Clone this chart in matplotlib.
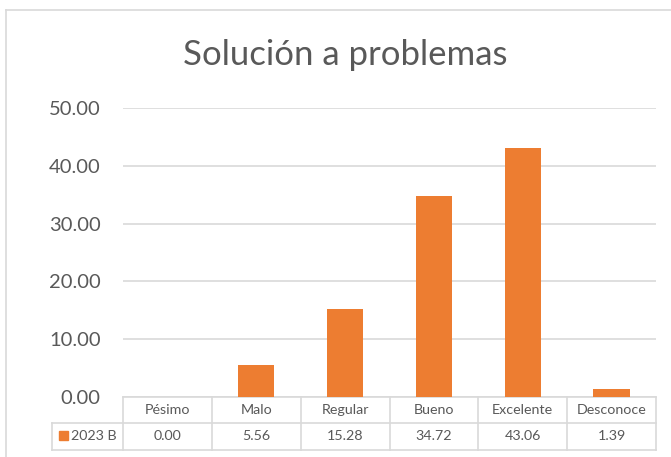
import matplotlib.pyplot as plt
from matplotlib.patches import Rectangle
from matplotlib.lines import Line2D

categories = ['Pésimo', 'Malo', 'Regular', 'Bueno', 'Excelente', 'Desconoce']
values = [0.00, 5.56, 15.28, 34.72, 43.06, 1.39]
series_name = '2023 B'
y_ticks = [0, 10, 20, 30, 40, 50]

bar_color = '#ED7D31'
text_color = '#595959'
line_color = '#D9D9D9'

plt.rcParams['font.family'] = ['Lato', 'DejaVu Sans']

fig = plt.figure(figsize=(6.71, 4.57), dpi=100)

# chart border (only top and left visible in the reference crop)
fig.add_artist(Line2D([6 / 671, 6 / 671], [0, 1 - 10 / 457], transform=fig.transFigure,
                      color=line_color, lw=1.2))
fig.add_artist(Line2D([6 / 671, 1], [1 - 10 / 457, 1 - 10 / 457], transform=fig.transFigure,
                      color=line_color, lw=1.2))

ax = fig.add_axes([123 / 671, 1 - 397 / 457, 533 / 671, 289 / 457])
x = list(range(len(categories)))
ax.bar(x, values, width=0.41, color=bar_color, zorder=3)
ax.set_xlim(-0.5, len(categories) - 0.5)
ax.set_ylim(0, 50)
ax.set_yticks(y_ticks)
ax.set_yticklabels([f'{v:.2f}' for v in y_ticks], fontsize=14.5, color=text_color)
ax.tick_params(axis='y', length=0, pad=16)
ax.set_xticks([])
ax.grid(axis='y', color=line_color, lw=1.2, zorder=0)
for s in ax.spines.values():
    s.set_visible(False)

fig.text(345 / 671, 1 - 55 / 457, 'Solución a problemas', ha='center', va='center',
         fontsize=25, color=text_color)

# data table below the axes, in axes coordinates
n = len(categories)
h1 = -26 / 289
h2 = -53 / 289
leg_left = (52 - 123) / 533 * n - 0.5
kw = dict(color=line_color, lw=1.2, clip_on=False, zorder=1)
# horizontal lines
ax.plot([-0.5, n - 0.5], [0, 0], transform=ax.get_xaxis_transform(), **kw)
ax.plot([leg_left, n - 0.5], [h1, h1], transform=ax.get_xaxis_transform(), **kw)
ax.plot([leg_left, n - 0.5], [h2, h2], transform=ax.get_xaxis_transform(), **kw)
# vertical lines
for i in range(n + 1):
    ax.plot([i - 0.5, i - 0.5], [0, h2], transform=ax.get_xaxis_transform(), **kw)
ax.plot([leg_left, leg_left], [h1, h2], transform=ax.get_xaxis_transform(), **kw)

for i, (c, v) in enumerate(zip(categories, values)):
    ax.text(i, h1 / 2, c, transform=ax.get_xaxis_transform(), ha='center', va='center',
            fontsize=10.3, color=text_color)
    ax.text(i, (h1 + h2) / 2, f'{v:.2f}', transform=ax.get_xaxis_transform(),
            ha='center', va='center', fontsize=10.3, color=text_color)

# legend key in the row header
fig.add_artist(Rectangle((59 / 671, 1 - 440 / 457), 9 / 671, 9 / 457,
                         transform=fig.transFigure, color=bar_color))
fig.text(71 / 671, 1 - 436 / 457, series_name, ha='left', va='center',
         fontsize=10.3, color=text_color)

fig.savefig('out.png', dpi=100)
